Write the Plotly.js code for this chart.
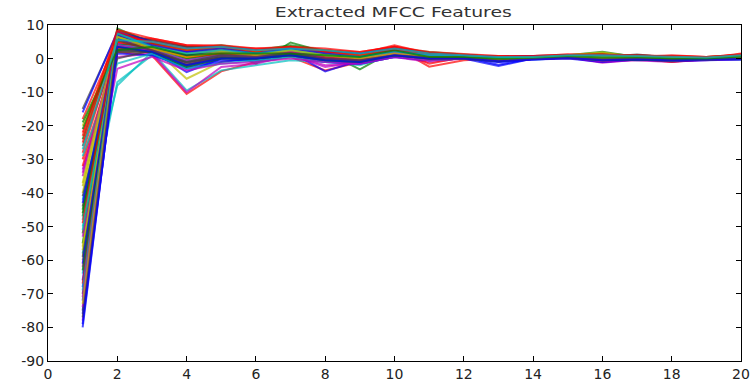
<!DOCTYPE html>
<html>
<head>
<meta charset="utf-8">
<script src="https://cdn.plot.ly/plotly-3.0.1.min.js"></script>
<style>html,body{margin:0;padding:0;background:#fff}#chart{width:752px;height:383px}</style>
</head>
<body>
<div id="chart"></div>
<script>
const coeffIndex = [1,2,3,4,5,6,7,8,9,10,11,12,13,14,15,16,17,18,19,20];
const xTicks = [0,2,4,6,8,10,12,14,16,18,20];
const yTicks = [-90,-80,-70,-60,-50,-40,-30,-20,-10,0,10];
const lineColors = ['#0000FF','#008000','#FF0000','#00BFBF','#BF00BF','#BFBF00','#404040'];

const frame01 = [-68, 4.5, 3.0, 0.5, 1.5, 0.8, 2.0, 1.0, 0.0, 1.5, 0.5, 0.3, -0.5, 0.2, 0.5, 0.0, 0.3, -0.2, 0.1, 0.4];
const frame02 = [-45, 9.0, 4.5, 3.5, 3.0, -1.5, 4.8, 2.0, -3.2, 2.5, 1.0, 0.5, 0.0, 0.5, 1.0, 2.0, 0.5, 0.2, 0.0, 0.8];
const frame03 = [-30, 2.0, 1.0, -10.5, -3.8, -1.0, 0.5, -3.5, -1.0, 3.5, -2.4, -0.5, 0.0, 0.3, 0.8, -0.5, 0.0, -0.8, -0.3, 0.2];
const frame04 = [-50, -8.0, 2.0, -9.5, -3.5, -2.0, -0.5, -1.0, -2.0, 1.0, 0.0, 0.3, -0.5, 0.0, 0.5, 0.2, -0.3, 0.0, -0.2, -0.3];
const frame05 = [-33, 0.5, 1.5, -10.0, -2.5, -1.5, 1.0, -2.0, -1.5, 0.5, -1.0, 0.0, 0.5, 0.2, 0.3, -1.0, -0.5, -0.5, 0.0, 0.3];
const frame06 = [-60, 5.5, 3.5, -6.0, -1.0, 0.5, 2.0, 1.0, 0.5, 2.0, 1.0, 0.5, 0.3, 0.5, 1.0, 1.0, 0.2, 0.8, 0.3, 0.5];
const frame07 = [-75, 6.0, 3.0, 0.0, 2.0, 1.5, 3.0, 1.5, 0.5, 2.0, 1.0, 0.8, 0.0, 0.3, 0.5, 0.5, 1.0, 0.5, 0.2, 0.6];
const frame08 = [-72, 5.0, 2.5, -4.0, 0.0, 1.0, 2.5, 0.5, -0.5, 1.0, 0.5, 0.0, -2.2, 0.0, 0.5, -0.5, 0.0, -0.5, -0.2, 0.0];
const frame09 = [-55, 7.5, 4.0, 2.0, 3.5, 2.0, 3.5, 1.5, 1.0, 2.5, 1.5, 1.0, 0.5, 0.5, 0.8, 1.5, 0.8, 0.5, 0.3, 0.6];
const frame10 = [-22, 7.0, 5.5, 3.5, 3.0, 2.5, 2.0, 2.5, 1.5, 4.0, 1.5, 1.0, 0.5, 0.8, 1.2, 0.8, 0.5, 0.8, 0.5, 1.2];
const frame11 = [-58, -7.0, 1.0, -2.0, 0.5, -1.0, 0.5, -0.5, -1.5, 0.5, 0.5, 0.0, 0.0, -0.3, 0.2, 0.0, -0.5, -0.3, 0.0, 0.0];
const frame12 = [-78, 3.0, 2.0, -1.0, 1.0, 0.0, 1.5, -0.5, 0.0, 1.0, 0.0, 0.5, -0.5, 0.0, 0.3, -1.2, -0.3, -0.8, -0.5, 0.2];
const frame13 = [-40, 6.5, 4.5, 1.5, 2.5, 1.5, 3.5, 2.0, 1.0, 3.0, 1.0, 0.8, 0.5, 0.5, 1.0, 1.8, 0.5, 0.0, 0.3, 0.8];
const frame14 = [-26, 3.5, 4.0, 2.5, 2.0, 2.0, 2.5, 1.0, 0.5, 2.0, 1.5, 0.5, 0.0, 0.3, 0.8, 0.5, 1.2, 0.3, 0.0, 0.5];
const frame15 = [-80, 4.0, 1.5, -3.0, -1.0, 0.0, 1.5, 0.0, -1.0, 1.5, 0.0, 0.3, -1.0, 0.0, 0.5, -0.5, 0.0, -0.3, -0.3, -0.2];
const frame16 = [-47, 8.5, 5.0, 3.0, 4.0, 2.5, 4.0, 2.5, 1.5, 3.0, 2.0, 1.2, 0.5, 0.8, 1.0, 1.0, 0.5, 0.5, 0.5, 1.0];
const frame17 = [-18, 6.0, 6.0, 4.0, 3.5, 3.0, 3.0, 2.5, 2.0, 3.5, 1.5, 1.0, 0.8, 0.5, 1.0, 0.5, 0.5, 1.0, 0.5, 1.0];
const frame18 = [-64, 8.0, 3.0, 1.0, 2.0, 1.0, 2.5, 1.0, 0.0, 2.0, 0.8, 0.5, 0.0, 0.5, 0.8, 0.5, 0.3, 0.0, 0.2, 0.4];
const frame19 = [-35, 4.5, 3.5, 0.0, 1.5, 0.5, 2.0, 0.0, 0.0, 1.5, 0.5, 0.0, 0.0, 0.0, 0.5, 0.0, -0.5, -1.0, -0.3, 0.0];
const frame20 = [-20, 5.0, 5.0, 3.0, 2.5, 2.0, 3.0, 2.0, 1.5, 2.5, 1.2, 1.0, 0.5, 0.5, 1.0, 1.5, 0.5, 0.5, 0.3, 0.5];
const frame21 = [-70, 2.5, 2.0, -2.0, 0.5, 0.5, 1.5, 0.5, -0.5, 1.0, 0.5, 0.3, -0.3, 0.2, 0.3, 0.0, 0.5, 0.0, -0.2, 0.2];
const frame22 = [-66, 6.5, 3.5, 1.0, 2.5, 1.5, 2.0, -3.8, -0.5, 1.5, 0.5, 0.5, -1.8, 0.0, 0.5, -0.3, 0.0, -0.5, -0.3, 0.3];
const frame23 = [-52, 7.0, 3.0, 2.5, 3.0, 1.5, 3.0, 1.5, 0.0, 2.0, 1.0, 0.8, 0.0, 0.5, 0.5, 1.0, 0.3, 0.3, 0.0, 0.5];
const frame24 = [-28, 5.0, 4.5, 2.0, 2.0, 2.0, 2.0, 2.0, 1.0, 3.0, -1.5, 0.5, 0.3, 0.5, 0.8, -0.5, 0.0, -1.0, 0.0, 0.8];
const frame25 = [-42, 3.0, 2.5, -1.0, 1.0, 0.0, 1.0, -1.0, -1.0, 1.0, 0.0, 0.0, -0.5, -0.2, 0.3, -0.3, -0.5, -0.5, -0.3, -0.2];
const frame26 = [-62, 5.5, 3.0, 1.0, 2.0, 1.0, 2.5, 1.0, 0.5, 1.5, 0.5, 0.3, -0.3, 0.0, 0.5, -1.0, 0.0, -0.3, 0.0, 0.3];
const frame27 = [-38, 4.0, 3.0, 0.5, 1.5, 1.0, 2.0, 1.0, 0.0, 1.5, 0.8, 0.5, 0.0, 0.3, 0.5, 1.0, 0.0, -0.8, 0.0, 0.3];
const frame28 = [-15, 7.5, 5.5, 3.5, 3.0, 2.5, 2.5, 2.0, 1.5, 3.0, 1.5, 1.0, 0.5, 0.5, 1.0, 0.8, 1.0, 0.5, 0.3, 0.8];
const frame29 = [-76, 1.5, 1.0, -2.5, -0.5, -0.5, 1.0, -1.0, -1.5, 0.5, -0.5, 0.0, -1.0, -0.3, 0.0, -1.0, -0.3, -0.8, -0.5, -0.3];
const frame30 = [-24, 6.0, 5.0, 2.5, 2.5, 2.0, 3.0, 2.0, 1.0, 2.5, 1.5, 0.8, 0.5, 0.5, 1.0, 1.2, 0.5, 0.5, 0.2, 0.6];
const frame31 = [-32, 3.0, 3.0, 0.5, 1.0, 1.0, 1.0, 0.5, 0.5, 2.0, -0.5, 0.3, 0.0, 0.3, 0.5, 0.0, 0.3, 0.0, 0.0, 1.5];
const frame32 = [-48, 6.0, 4.0, 1.5, 2.0, 1.0, 2.0, 1.0, 0.5, 1.5, 1.0, 0.5, 0.0, 0.3, 0.8, 0.5, 0.0, 0.3, 0.0, 0.5];
const frame33 = [-74, 4.5, 2.5, -1.5, 0.5, 0.0, 1.0, -2.5, -1.0, 1.0, -0.5, 0.0, -0.8, 0.0, 0.3, -0.8, -0.3, -0.5, -0.3, 0.0];
const frame34 = [-56, 5.0, 3.5, 0.0, 1.5, 0.5, 2.0, 0.5, 0.0, 1.5, 0.5, 0.3, -0.3, 0.2, 0.5, 0.5, 0.0, -0.3, 0.0, 0.3];
const frame35 = [-44, 2.0, 2.0, -1.0, 0.5, 0.0, 1.0, 0.0, -0.5, 1.0, 0.0, 0.0, -0.5, 0.0, 0.2, -0.3, 0.3, -0.3, -0.2, 0.0];
const frame36 = [-16, 8.0, 5.0, 3.0, 3.5, 2.5, 3.0, 2.0, 1.5, 3.0, 1.5, 1.0, 0.5, 0.8, 1.0, 1.0, 0.5, 0.5, 0.3, 0.8];
const frame37 = [-21, 4.0, 4.5, 1.5, 2.0, 1.5, 2.0, 1.5, 0.5, 2.5, 0.5, 0.5, 0.0, 0.3, 0.8, 0.3, 0.3, 0.0, 0.0, 0.5];
const frame38 = [-25, 6.5, 5.0, 3.0, 3.0, 2.5, 3.0, 2.0, 1.0, 3.0, 1.0, 1.0, 0.5, 0.5, 1.0, 1.0, 0.8, 0.5, 0.3, 0.8];
const frame39 = [-29, -1.5, 1.5, -3.0, -1.5, -0.5, 0.5, -1.0, -0.5, 1.0, -0.5, 0.0, 0.0, 0.0, 0.3, -0.5, 0.0, -0.5, -0.2, 0.0];
const frame40 = [-34, 5.5, 4.0, 2.0, 2.5, 1.5, 2.5, 1.5, 0.5, 2.5, 1.0, 0.5, 0.3, 0.5, 0.8, 0.5, 0.5, 0.3, 0.2, 0.5];
const frame41 = [-37, 7.0, 4.0, 2.5, 3.0, 2.0, 3.0, 1.5, 1.0, 2.0, 1.0, 0.8, 0.3, 0.5, 0.8, 1.0, 0.5, 0.3, 0.2, 0.6];
const frame42 = [-41, 0.0, 2.5, -2.0, 0.0, 0.0, 1.0, -0.5, -1.0, 1.0, 0.0, 0.0, -0.5, 0.0, 0.3, -0.3, -0.3, -0.5, -0.2, 0.0];
const frame43 = [-43, 6.0, 3.5, 1.0, 2.0, 1.0, 2.5, 1.0, 0.0, 2.0, 0.5, 0.5, 0.0, 0.3, 0.5, 0.5, 0.3, 0.0, 0.0, 0.4];
const frame44 = [-46, 3.5, 3.0, 0.0, 1.0, 0.5, 1.5, 0.0, -0.5, 1.5, 0.3, 0.3, -0.3, 0.0, 0.5, 0.0, 0.0, -0.3, -0.2, 0.2];
const frame45 = [-49, 8.0, 4.5, 2.5, 3.5, 2.0, 3.5, 2.0, 1.0, 2.5, 1.5, 1.0, 0.5, 0.5, 1.0, 1.2, 0.5, 0.5, 0.3, 0.7];
const frame46 = [-51, 4.0, 3.0, -0.5, 1.0, 0.5, 1.5, 0.5, 0.0, 1.5, 0.5, 0.3, 0.0, 0.2, 0.5, 0.3, 0.0, -0.2, 0.0, 0.3];
const frame47 = [-53, -3.0, 0.5, -3.5, -1.5, -1.0, 0.0, -1.0, -1.5, 0.5, -0.5, 0.0, -0.5, -0.2, 0.2, -0.5, -0.3, -0.5, -0.3, -0.2];
const frame48 = [-57, 6.5, 3.5, 1.5, 2.5, 1.5, 2.5, 1.0, 0.5, 2.0, 1.0, 0.5, 0.0, 0.3, 0.8, 0.8, 0.3, 0.2, 0.2, 0.5];
const frame49 = [-59, 2.5, 2.5, -1.5, 0.5, 0.0, 1.5, 0.0, -0.5, 1.0, 0.0, 0.3, -0.5, 0.0, 0.3, -0.5, -0.2, -0.5, -0.2, 0.0];
const frame50 = [-61, 7.0, 4.0, 2.0, 3.0, 1.5, 3.0, 1.5, 0.5, 2.0, 1.0, 0.8, 0.3, 0.5, 0.8, 1.0, 0.5, 0.3, 0.2, 0.6];
const frame51 = [-63, 3.5, 2.0, -2.5, 0.0, 0.0, 1.0, -0.5, -1.0, 1.0, 0.0, 0.0, -0.8, 0.0, 0.3, -0.5, -0.3, -0.5, -0.3, 0.0];
const frame52 = [-67, 5.0, 3.0, 0.5, 1.5, 1.0, 2.0, 0.5, 0.0, 1.5, 0.5, 0.3, -0.3, 0.2, 0.5, 0.3, 0.3, 0.0, 0.0, 0.3];
const frame53 = [-69, 7.5, 3.5, 1.5, 2.5, 1.5, 2.5, 1.0, 0.5, 2.0, 1.0, 0.5, 0.0, 0.3, 0.8, 0.5, 0.5, 0.2, 0.2, 0.5];
const frame54 = [-71, 4.0, 2.5, -0.5, 1.0, 0.5, 2.0, 0.0, -0.5, 1.5, 0.3, 0.3, -0.5, 0.0, 0.3, -0.3, 0.0, -0.3, -0.2, 0.2];
const frame55 = [-73, 6.5, 3.0, 0.5, 2.0, 1.0, 2.5, 1.0, 0.0, 1.5, 0.5, 0.5, -0.3, 0.2, 0.5, 0.3, 0.3, 0.0, 0.0, 0.4];
const frame56 = [-77, 5.5, 2.5, -1.0, 1.0, 0.5, 1.5, 0.0, -0.5, 1.0, 0.3, 0.3, -0.5, 0.0, 0.3, -0.3, 0.0, -0.3, -0.2, 0.1];
const frame57 = [-79, 3.5, 2.0, -2.0, 0.0, 0.0, 1.0, -0.5, -1.0, 1.0, 0.0, 0.0, -0.8, -0.2, 0.2, -0.5, -0.3, -0.5, -0.3, -0.1];
const frame58 = [-19, 2.5, 3.5, 1.0, 1.5, 1.5, 1.5, 1.0, 0.5, 2.5, 0.5, 0.5, 0.0, 0.3, 0.8, 0.3, 0.5, 0.0, 0.0, 0.6];
const frame59 = [-23, 8.5, 6.0, 4.0, 4.0, 3.0, 3.5, 3.0, 2.0, 3.5, 2.0, 1.5, 0.8, 0.8, 1.2, 1.2, 1.0, 0.8, 0.5, 1.2];
const frame60 = [-27, 5.5, 5.0, 3.0, 3.5, 2.5, 3.0, 2.5, 1.5, 3.0, 1.5, 1.0, 0.5, 0.5, 1.0, 1.0, 0.8, 0.5, 0.3, 1.0];

const frames = [frame01,frame02,frame03,frame04,frame05,frame06,frame07,frame08,frame09,frame10,
  frame11,frame12,frame13,frame14,frame15,frame16,frame17,frame18,frame19,frame20,
  frame21,frame22,frame23,frame24,frame25,frame26,frame27,frame28,frame29,frame30,
  frame31,frame32,frame33,frame34,frame35,frame36,frame37,frame38,frame39,frame40,
  frame41,frame42,frame43,frame44,frame45,frame46,frame47,frame48,frame49,frame50,
  frame51,frame52,frame53,frame54,frame55,frame56,frame57,frame58,frame59,frame60];

const traces = frames.map((f, i) => ({
  x: coeffIndex, y: f, type: 'scatter', mode: 'lines',
  line: {color: lineColors[i % lineColors.length], width: 2},
  opacity: 0.7, showlegend: false, hoverinfo: 'skip'
}));

const axisFont = {family: 'DejaVu Sans, sans-serif', size: 14, color: '#222'};
const layout = {
  width: 752, height: 383,
  margin: {l: 48, r: 11, t: 25, b: 22},
  paper_bgcolor: '#fff', plot_bgcolor: '#fff',
  title: {text: 'Extracted MFCC Features', x: 0.523, xanchor: 'center', y: 0.969, yanchor: 'middle',
          font: {family: 'DejaVu Sans, sans-serif', size: 14, color: '#333'}},
  xaxis: {range: [0, 20], tickvals: xTicks, ticktext: xTicks.map(String), ticks: 'inside', ticklen: 5,
          tickcolor: '#000', showline: true, linecolor: '#000', linewidth: 1, mirror: 'ticks',
          showgrid: false, zeroline: false, tickfont: axisFont},
  yaxis: {range: [-90, 10], tickvals: yTicks, ticktext: yTicks.map(String), ticks: 'inside', ticklen: 5,
          tickcolor: '#000', showline: true, linecolor: '#000', linewidth: 1, mirror: 'ticks',
          showgrid: false, zeroline: false, tickfont: axisFont}
};
Plotly.newPlot('chart', traces, layout, {staticPlot: true}).then(gd => {
  const t = gd.querySelector('.gtitle');
  if (t) { t.setAttribute('textLength', '237'); t.setAttribute('lengthAdjust', 'spacingAndGlyphs'); }
});
</script>
</body>
</html>
